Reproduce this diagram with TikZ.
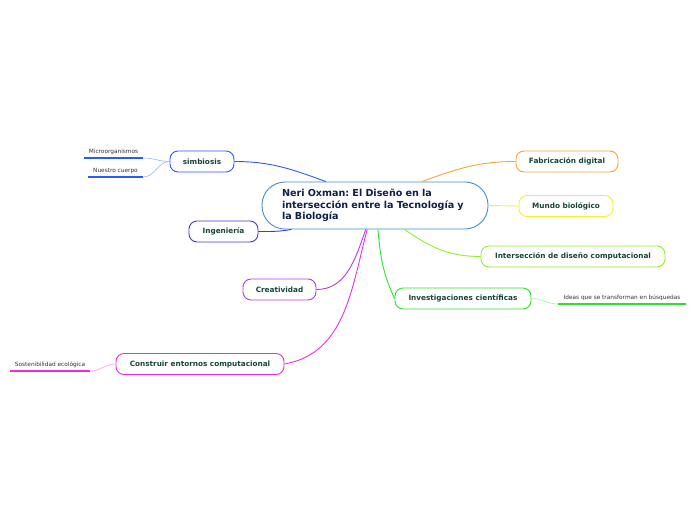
\documentclass[tikz,border=0pt]{standalone}
\usepackage{fontspec}
\setmainfont{DejaVu Sans}
\usepackage{tikz}
\usetikzlibrary{positioning}
\definecolor{MapNavy}{HTML}{0E1F4A}
\definecolor{MapInk}{HTML}{17443A}
\definecolor{MapHub}{HTML}{3D8FD4}
\definecolor{MapBlue}{HTML}{2A5BF0}
\definecolor{MapIndigo}{HTML}{5A2CE0}
\definecolor{MapViolet}{HTML}{B03CF0}
\definecolor{MapPink}{HTML}{F02CD8}
\definecolor{MapGreen}{HTML}{2EE02E}
\definecolor{MapLime}{HTML}{8CF02A}
\definecolor{MapYellow}{HTML}{F2F230}
\definecolor{MapOrange}{HTML}{F5A431}

\begin{document}
\begin{tikzpicture}[
  x=1pt, y=-1pt,
  every node/.style={font=\fontsize{7.3}{8}\selectfont\bfseries, text=MapInk},
  hub/.style={draw=MapHub, fill=white, rounded corners=23pt, line width=0.9pt,
              minimum width=226pt, minimum height=47pt, text width=186pt, align=left,
              inner sep=0pt, font=\fontsize{9.6}{11.5}\selectfont\bfseries\frenchspacing,
              text=MapNavy},
  topic/.style={draw=#1, fill=white, rounded corners=8pt, line width=0.9pt,
              minimum height=21pt, inner sep=2pt},
  leaf/.style={font=\fontsize{5.8}{6}\selectfont, text=black!80, anchor=south,
              inner xsep=0pt, inner ysep=3pt},
  link/.style={draw=#1, line width=0.9pt},
  twig/.style={draw=#1!45, line width=0.6pt},
  under/.style={draw=#1, line width=1.4pt},
]
\useasboundingbox (0,0) rectangle (696,520);
\node[hub] (hub) at (375,205.5)
     {Neri Oxman: El Diseño en la\\intersección entre la Tecnología y\\la Biología};
\node[topic=MapBlue,   minimum width=64pt]  (simb)  at (202,161.5) {simbiosis};
\node[topic=MapIndigo, minimum width=69pt]  (inge)  at (223.5,231.5) {Ingeniería};
\node[topic=MapViolet, minimum width=73pt]  (crea)  at (279.5,289.5) {Creatividad};
\node[topic=MapPink,   minimum width=168pt] (cons)  at (200,364) {Construir entornos computacional};
\node[topic=MapGreen,  minimum width=136pt] (inve)  at (463,298.5) {Investigaciones científicas};
\node[topic=MapOrange, minimum width=102pt] (fabr)  at (567,161.5) {Fabricación digital};
\node[topic=MapYellow, minimum width=94pt]  (mundo) at (566,206) {Mundo biológico};
\node[topic=MapLime,   minimum width=184pt] (inter) at (573,256.5) {Intersección de diseño computacional};
\node[leaf, minimum width=59pt]  (micro)  at (113.5,158) {Microorganismos};
\node[leaf, minimum width=55pt]  (cuerpo) at (115.5,177) {Nuestro cuerpo};
\node[leaf, minimum width=80pt]  (soste)  at (50,371) {Sostenibilidad ecológica};
\node[leaf, minimum width=128pt] (ideas)  at (622,304) {Ideas que se transforman en búsquedas};
\draw[link=MapBlue]   (simb.east) to[out=0,in=160] (hub.154);
\draw[link=MapIndigo] (inge.east) to[out=0,in=190] (hub.196);
\draw[link=MapViolet] (crea.east) to[out=0,in=250] (hub.249);
\draw[link=MapPink]   (cons.east) to[out=10,in=255] (hub.252);
\draw[link=MapGreen]  (inve.west) to[out=115,in=-85] (hub.277);
\draw[link=MapLime]   (hub.321) to[out=-35,in=180] (inter.west);
\draw[link=MapYellow] (hub.east) -- (mundo.west);
\draw[link=MapOrange] (hub.27) to[out=20,in=180] (fabr.west);
\draw[twig=MapBlue]  (simb.west) to[out=180,in=0] (micro.south east);
\draw[twig=MapBlue]  (simb.west) to[out=180,in=0] (cuerpo.south east);
\draw[twig=MapPink]  (cons.west) to[out=180,in=0] (soste.south east);
\draw[twig=MapGreen] (inve.east) to[out=0,in=180] (ideas.south west);
\foreach \l/\c in {micro/MapBlue,cuerpo/MapBlue,soste/MapPink,ideas/MapGreen}
  {\draw[under=\c] (\l.south west) -- (\l.south east);}
\end{tikzpicture}
\end{document}
